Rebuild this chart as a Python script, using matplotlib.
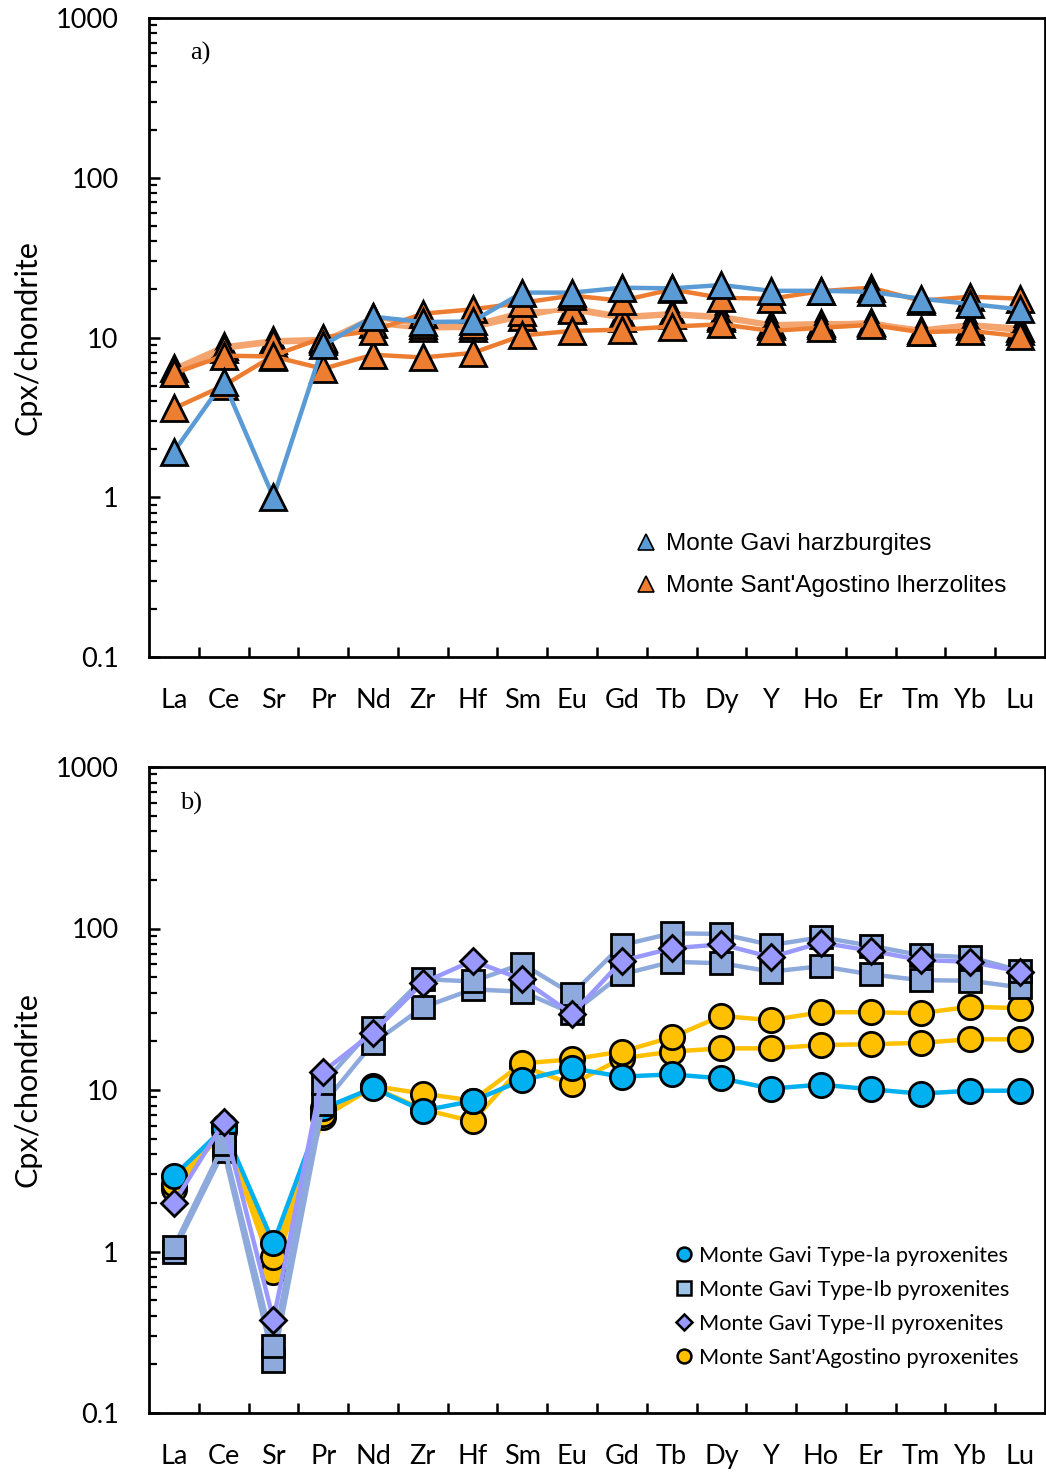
import matplotlib
matplotlib.use("Agg")
import matplotlib.pyplot as plt
from matplotlib.lines import Line2D
from matplotlib.ticker import FixedLocator, LogLocator, NullFormatter, FixedFormatter

elements = ["La", "Ce", "Sr", "Pr", "Nd", "Zr", "Hf", "Sm", "Eu", "Gd", "Tb", "Dy", "Y", "Ho", "Er", "Tm", "Yb", "Lu"]

# Panel a: Monte Gavi harzburgite (blue) and Monte Sant'Agostino lherzolites (orange)
gavi_harz = [1.93, 5.3, 1.0, 8.96, 13.5, 12.5, 12.6, 19.1, 19.1, 20.5, 20.3, 21.3, 19.6, 19.6, 19.3, 17.5, 16.2, 15.0]
msa_lherz_1 = [3.6, 5.0, 7.7, 10.0, 11.0, 14.1, 15.0, 16.5, 18.3, 17.0, 20.0, 17.7, 17.5, 19.5, 20.5, 17.0, 18.0, 17.5]
msa_lherz_2 = [6.4, 8.8, 9.6, 9.8, 12.2, 11.4, 11.5, 13.5, 15.4, 13.6, 14.2, 13.6, 12.1, 12.3, 12.3, 11.2, 12.1, 11.5]
msa_lherz_3 = [6.0, 8.5, 9.3, 9.5, 13.4, 12.0, 12.0, 14.5, 14.8, 13.2, 13.8, 13.2, 11.8, 12.0, 12.5, 10.9, 11.8, 11.0]
msa_lherz_4 = [5.96, 7.7, 7.6, 6.37, 7.8, 7.5, 8.0, 10.3, 11.0, 11.2, 11.7, 12.1, 11.0, 11.5, 12.0, 10.8, 11.0, 10.2]

# Panel b: pyroxenites
msa_pyx_1 = [2.6, 6.0, 0.93, 7.1, 10.6, 9.5, 8.6, 14.6, 15.5, 17.3, 21.2, 28.7, 27.1, 30.3, 30.3, 29.9, 32.8, 32.1]
msa_pyx_2 = [2.45, 5.6, 0.75, 6.8, 10.4, 7.6, 6.4, 14.0, 10.9, 15.7, 17.3, 18.1, 18.1, 19.0, 19.2, 19.6, 20.6, 20.6]
gavi_Ia = [2.94, 5.8, 1.13, 7.7, 10.3, 7.45, 8.55, 11.5, 13.6, 12.1, 12.5, 11.8, 10.2, 10.8, 10.1, 9.5, 9.9, 9.9]
gavi_Ib_1 = [1.07, 4.6, 0.26, 11.0, 24.1, 48.6, 47.0, 60.3, 39.3, 79.0, 93.4, 92.5, 79.0, 88.2, 78.2, 68.4, 66.4, 54.9]
gavi_Ib_2 = [1.0, 4.2, 0.21, 8.2, 19.5, 32.5, 42.0, 40.6, 29.9, 52.0, 62.2, 60.9, 54.1, 58.4, 52.0, 47.9, 47.5, 43.2]
gavi_II = [2.0, 6.3, 0.377, 13.0, 22.7, 46.1, 63.1, 48.4, 29.5, 63.1, 75.3, 79.8, 66.4, 81.7, 72.9, 63.8, 62.2, 54.1]

legend_a = ["Monte Gavi harzburgites", "Monte Sant'Agostino lherzolites"]
legend_b = ["Monte Gavi Type-Ia pyroxenites", "Monte Gavi Type-Ib pyroxenites",
            "Monte Gavi Type-II pyroxenites", "Monte Sant'Agostino pyroxenites"]

BLUE = "#5B9BD5"
ORANGE = "#ED7D31"
ORANGE_L = "#F4A46E"
CYAN = "#00B0F0"
STEEL = "#8EA9DB"
LAV = "#9999FF"
GOLD = "#FFC000"

TICKFONT = "Lato"
W, H = 1046, 1473
fig = plt.figure(figsize=(W / 100, H / 100), dpi=100)

def make_ax(top_px, bot_px):
    left, right = 149, 1045
    ax = fig.add_axes([left / W, 1 - bot_px / H, (right - left) / W, (bot_px - top_px) / H])
    ax.set_yscale("log")
    ax.set_ylim(0.1, 1000)
    ax.set_xlim(-0.5, len(elements) - 0.5)
    for s in ax.spines.values():
        s.set_linewidth(2.0)
        s.set_color("black")
    x = list(range(len(elements)))
    ax.xaxis.set_major_locator(FixedLocator(x))
    ax.xaxis.set_major_formatter(FixedFormatter(elements))
    ax.xaxis.set_minor_locator(FixedLocator([i + 0.5 for i in range(len(elements) - 1)]))
    ax.tick_params(axis="x", which="major", length=0, pad=22, labelsize=19.5)
    ax.tick_params(axis="x", which="minor", direction="in", length=7, width=1.8)
    ax.yaxis.set_major_locator(FixedLocator([0.1, 1, 10, 100, 1000]))
    ax.yaxis.set_major_formatter(FixedFormatter(["0.1", "1", "10", "100", "1000"]))
    ax.yaxis.set_minor_locator(LogLocator(base=10, subs=range(2, 10), numticks=20))
    ax.yaxis.set_minor_formatter(NullFormatter())
    ax.tick_params(axis="y", which="major", direction="in", length=8, width=1.8, pad=22, labelsize=19.5)
    ax.tick_params(axis="y", which="minor", direction="in", length=6, width=1.6)
    for lab in ax.get_xticklabels() + ax.get_yticklabels():
        lab.set_fontfamily(TICKFONT)
    ax.set_ylabel("Cpx/chondrite", fontsize=22, fontfamily=TICKFONT, labelpad=10)
    return ax

x = list(range(len(elements)))

# ---------- Panel a ----------
axa = make_ax(18, 657)
tri = dict(marker="^", ms=18.5, mec="black", mew=2.0, mfc=ORANGE, lw=3.2)
axa.plot(x, msa_lherz_2, color=ORANGE_L, **tri)
axa.plot(x, msa_lherz_3, color=ORANGE_L, **tri)
axa.plot(x, msa_lherz_4, color=ORANGE, **tri)
axa.plot(x, msa_lherz_1, color=ORANGE, **tri)
tri_b = dict(tri)
tri_b["mfc"] = BLUE
axa.plot(x, gavi_harz, color=BLUE, **tri_b)
axa.text(0.046, 0.945, "a)", transform=axa.transAxes, fontsize=19, fontfamily="Liberation Serif", va="center")

ha = [Line2D([], [], ls="none", marker="^", ms=11, mfc=BLUE, mec="black", mew=1.2),
      Line2D([], [], ls="none", marker="^", ms=11, mfc=ORANGE, mec="black", mew=1.2)]
axa.legend(ha, legend_a, loc="upper left", bbox_to_anchor=(0.545, 0.194), frameon=False,
           prop={"family": "Liberation Sans", "size": 17.6}, handlelength=0.75, handletextpad=0.42,
           labelspacing=0.82, borderpad=0, borderaxespad=0)

# ---------- Panel b ----------
axb = make_ax(767, 1413)
circ = dict(marker="o", ms=17.5, mec="black", mew=2.0, lw=3.2)
axb.plot(x, msa_pyx_2, color=GOLD, mfc=GOLD, **circ)
axb.plot(x, msa_pyx_1, color=GOLD, mfc=GOLD, **circ)
axb.plot(x, gavi_Ia, color=CYAN, mfc=CYAN, **circ)
sq = dict(marker="s", ms=16, mec="black", mew=2.0, lw=3.2)
axb.plot(x, gavi_Ib_2, color=STEEL, mfc=STEEL, **sq)
axb.plot(x, gavi_Ib_1, color=STEEL, mfc=STEEL, **sq)
axb.plot(x, gavi_II, color=LAV, mfc=LAV, marker="D", ms=13, mec="black", mew=2.0, lw=3.2)
axb.text(0.035, 0.943, "b)", transform=axb.transAxes, fontsize=19, fontfamily="Liberation Serif", va="center")

hb = [Line2D([], [], ls="none", marker="o", ms=10, mfc=CYAN, mec="black", mew=1.8),
      Line2D([], [], ls="none", marker="s", ms=10, mfc="#9DC3E6", mec="black", mew=1.8),
      Line2D([], [], ls="none", marker="D", ms=8, mfc=LAV, mec="black", mew=1.8),
      Line2D([], [], ls="none", marker="o", ms=10, mfc=GOLD, mec="black", mew=1.8)]
axb.legend(hb, legend_b, loc="upper left", bbox_to_anchor=(0.587, 0.259), frameon=False,
           prop={"family": TICKFONT, "size": 15.7}, handlelength=0.8, handletextpad=0.3,
           labelspacing=0.64, borderpad=0, borderaxespad=0)

fig.savefig("out.png", dpi=100)
